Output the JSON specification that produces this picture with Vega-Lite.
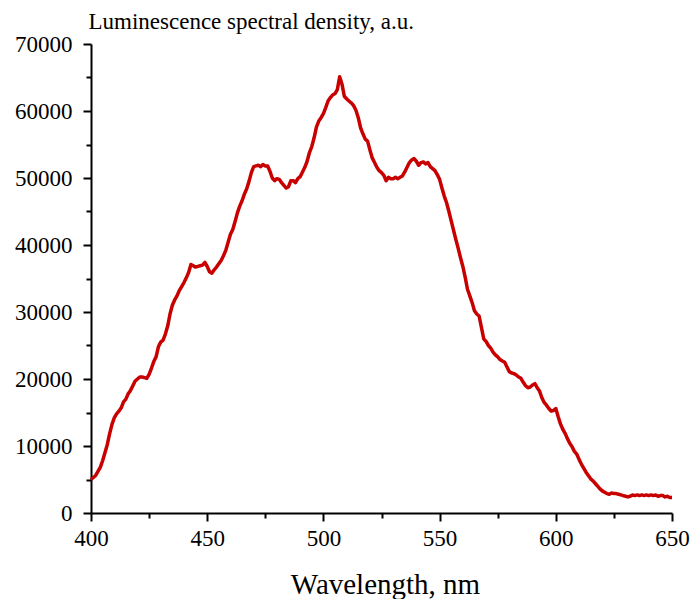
{
  "$schema": "https://vega.github.io/schema/vega-lite/v6.json",
  "width": 581,
  "height": 469,
  "autosize": {"type": "none"},
  "padding": {"left": 91, "top": 44, "right": 21, "bottom": 86},
  "background": "white",
  "config": {"view": {"stroke": null}},
  "data": {"values": [
    {"w":400,"v":5000},{"w":401,"v":5300},{"w":402,"v":5600},{"w":403,"v":6200},{"w":404,"v":6800},
    {"w":405,"v":7800},{"w":406,"v":9000},{"w":407,"v":10200},{"w":408,"v":11800},{"w":409,"v":13200},
    {"w":410,"v":14200},{"w":411,"v":14800},{"w":412,"v":15200},{"w":413,"v":15700},{"w":414,"v":16600},
    {"w":415,"v":17000},{"w":416,"v":17800},{"w":417,"v":18300},{"w":418,"v":19000},{"w":419,"v":19700},
    {"w":420,"v":20000},{"w":421,"v":20300},{"w":422,"v":20300},{"w":423,"v":20200},{"w":424,"v":20100},
    {"w":425,"v":20700},{"w":426,"v":21600},{"w":427,"v":22600},{"w":428,"v":23300},{"w":429,"v":24800},
    {"w":430,"v":25500},{"w":431,"v":25800},{"w":432,"v":26700},{"w":433,"v":27900},{"w":434,"v":29700},
    {"w":435,"v":31000},{"w":436,"v":31800},{"w":437,"v":32400},{"w":438,"v":33200},{"w":439,"v":33800},
    {"w":440,"v":34400},{"w":441,"v":35100},{"w":442,"v":35900},{"w":443,"v":37100},{"w":444,"v":36900},
    {"w":445,"v":36700},{"w":446,"v":36800},{"w":447,"v":36900},{"w":448,"v":37000},{"w":449,"v":37400},
    {"w":450,"v":36800},{"w":451,"v":36000},{"w":452,"v":35800},{"w":453,"v":36300},{"w":454,"v":36700},
    {"w":455,"v":37200},{"w":456,"v":37700},{"w":457,"v":38400},{"w":458,"v":39200},{"w":459,"v":40400},
    {"w":460,"v":41600},{"w":461,"v":42300},{"w":462,"v":43500},{"w":463,"v":44800},{"w":464,"v":45800},
    {"w":465,"v":46600},{"w":466,"v":47600},{"w":467,"v":48400},{"w":468,"v":49500},{"w":469,"v":50800},
    {"w":470,"v":51700},{"w":471,"v":51800},{"w":472,"v":51900},{"w":473,"v":51700},{"w":474,"v":52000},
    {"w":475,"v":51800},{"w":476,"v":51800},{"w":477,"v":51000},{"w":478,"v":50000},{"w":479,"v":49600},
    {"w":480,"v":49900},{"w":481,"v":49800},{"w":482,"v":49300},{"w":483,"v":48900},{"w":484,"v":48500},
    {"w":485,"v":48700},{"w":486,"v":49600},{"w":487,"v":49600},{"w":488,"v":49300},{"w":489,"v":49900},
    {"w":490,"v":50200},{"w":491,"v":50900},{"w":492,"v":51600},{"w":493,"v":52500},{"w":494,"v":53800},
    {"w":495,"v":54700},{"w":496,"v":56000},{"w":497,"v":57600},{"w":498,"v":58500},{"w":499,"v":59000},
    {"w":500,"v":59600},{"w":501,"v":60500},{"w":502,"v":61500},{"w":503,"v":62000},{"w":504,"v":62400},
    {"w":505,"v":62600},{"w":506,"v":63200},{"w":507,"v":65100},{"w":508,"v":64000},{"w":509,"v":62200},
    {"w":510,"v":61800},{"w":511,"v":61500},{"w":512,"v":61200},{"w":513,"v":60800},{"w":514,"v":60100},
    {"w":515,"v":59000},{"w":516,"v":57500},{"w":517,"v":56600},{"w":518,"v":55800},{"w":519,"v":55500},
    {"w":520,"v":54200},{"w":521,"v":53000},{"w":522,"v":52300},{"w":523,"v":51600},{"w":524,"v":51100},
    {"w":525,"v":50800},{"w":526,"v":50400},{"w":527,"v":49600},{"w":528,"v":50100},{"w":529,"v":49900},
    {"w":530,"v":49900},{"w":531,"v":50100},{"w":532,"v":49900},{"w":533,"v":50100},{"w":534,"v":50300},
    {"w":535,"v":50900},{"w":536,"v":51600},{"w":537,"v":52300},{"w":538,"v":52700},{"w":539,"v":52900},
    {"w":540,"v":52500},{"w":541,"v":51900},{"w":542,"v":52300},{"w":543,"v":52400},{"w":544,"v":52100},
    {"w":545,"v":52300},{"w":546,"v":51700},{"w":547,"v":51400},{"w":548,"v":51100},{"w":549,"v":50500},
    {"w":550,"v":49800},{"w":551,"v":48500},{"w":552,"v":47300},{"w":553,"v":46300},{"w":554,"v":45000},
    {"w":555,"v":43600},{"w":556,"v":42200},{"w":557,"v":40800},{"w":558,"v":39500},{"w":559,"v":38100},
    {"w":560,"v":36800},{"w":561,"v":35200},{"w":562,"v":33400},{"w":563,"v":32400},{"w":564,"v":31400},
    {"w":565,"v":30200},{"w":566,"v":29700},{"w":567,"v":29400},{"w":568,"v":27700},{"w":569,"v":26000},
    {"w":570,"v":25600},{"w":571,"v":25000},{"w":572,"v":24600},{"w":573,"v":24000},{"w":574,"v":23600},
    {"w":575,"v":23300},{"w":576,"v":22900},{"w":577,"v":22700},{"w":578,"v":22500},{"w":579,"v":21800},
    {"w":580,"v":21100},{"w":581,"v":20900},{"w":582,"v":20800},{"w":583,"v":20600},{"w":584,"v":20300},
    {"w":585,"v":20100},{"w":586,"v":19500},{"w":587,"v":19000},{"w":588,"v":18700},{"w":589,"v":18800},
    {"w":590,"v":19100},{"w":591,"v":19300},{"w":592,"v":18700},{"w":593,"v":18200},{"w":594,"v":17200},
    {"w":595,"v":16500},{"w":596,"v":16100},{"w":597,"v":15600},{"w":598,"v":15200},{"w":599,"v":15300},
    {"w":600,"v":15600},{"w":601,"v":14400},{"w":602,"v":13300},{"w":603,"v":12500},{"w":604,"v":11900},
    {"w":605,"v":11100},{"w":606,"v":10400},{"w":607,"v":9900},{"w":608,"v":9200},{"w":609,"v":8800},
    {"w":610,"v":8000},{"w":611,"v":7300},{"w":612,"v":6700},{"w":613,"v":6100},{"w":614,"v":5600},
    {"w":615,"v":5100},{"w":616,"v":4800},{"w":617,"v":4400},{"w":618,"v":4000},{"w":619,"v":3600},
    {"w":620,"v":3300},{"w":621,"v":3100},{"w":622,"v":2900},{"w":623,"v":2800},{"w":624,"v":3000},
    {"w":625,"v":2900},{"w":626,"v":2900},{"w":627,"v":2800},{"w":628,"v":2700},{"w":629,"v":2600},
    {"w":630,"v":2500},{"w":631,"v":2400},{"w":632,"v":2500},{"w":633,"v":2700},{"w":634,"v":2600},
    {"w":635,"v":2700},{"w":636,"v":2600},{"w":637,"v":2700},{"w":638,"v":2600},{"w":639,"v":2700},
    {"w":640,"v":2600},{"w":641,"v":2700},{"w":642,"v":2600},{"w":643,"v":2700},{"w":644,"v":2500},
    {"w":645,"v":2600},{"w":646,"v":2600},{"w":647,"v":2400},{"w":648,"v":2500},{"w":649,"v":2300},
    {"w":650,"v":2300}
  ]},
  "mark": {"type": "line", "color": "#c80000", "strokeWidth": 3.5, "strokeJoin": "round"},
  "encoding": {
    "x": {
      "field": "w", "type": "quantitative",
      "scale": {"domain": [400, 650], "nice": false, "zero": false},
      "axis": {
        "values": [400,425,450,475,500,525,550,575,600,625,650],
        "labelExpr": "datum.value % 50 === 0 ? datum.label : ''",
        "tickSize": {"condition": {"test": "datum.value % 50 === 0", "value": 8}, "value": 5},
        "tickWidth": 2, "tickColor": "black",
        "domainColor": "black", "domainWidth": 2,
        "grid": false, "labelFlush": false, "labelOverlap": false,
        "labelFont": "Liberation Serif", "labelFontSize": 23, "labelColor": "black", "labelPadding": 6,
        "title": "Wavelength, nm",
        "titleFont": "Liberation Serif", "titleFontSize": 29, "titleFontWeight": "normal", "titleColor": "black",
        "titleX": 294, "titleY": 80, "titleAlign": "center", "titleBaseline": "alphabetic"
      }
    },
    "y": {
      "field": "v", "type": "quantitative",
      "scale": {"domain": [0, 70000], "nice": false},
      "axis": {
        "values": [0,5000,10000,15000,20000,25000,30000,35000,40000,45000,50000,55000,60000,65000,70000],
        "format": "d",
        "labelExpr": "datum.value % 10000 === 0 ? datum.label : ''",
        "tickSize": {"condition": {"test": "datum.value % 10000 === 0", "value": 8}, "value": 5},
        "tickWidth": 2, "tickColor": "black",
        "domainColor": "black", "domainWidth": 2,
        "grid": false, "labelOverlap": false, "labelFlush": false,
        "labelFont": "Liberation Serif", "labelFontSize": 23, "labelColor": "black", "labelPadding": 11,
        "title": "Luminescence spectral density, a.u.",
        "titleFont": "Liberation Serif", "titleFontSize": 23, "titleFontWeight": "normal", "titleColor": "black",
        "titleAngle": 0, "titleX": -3, "titleY": -16, "titleAlign": "left", "titleBaseline": "alphabetic"
      }
    }
  }
}
